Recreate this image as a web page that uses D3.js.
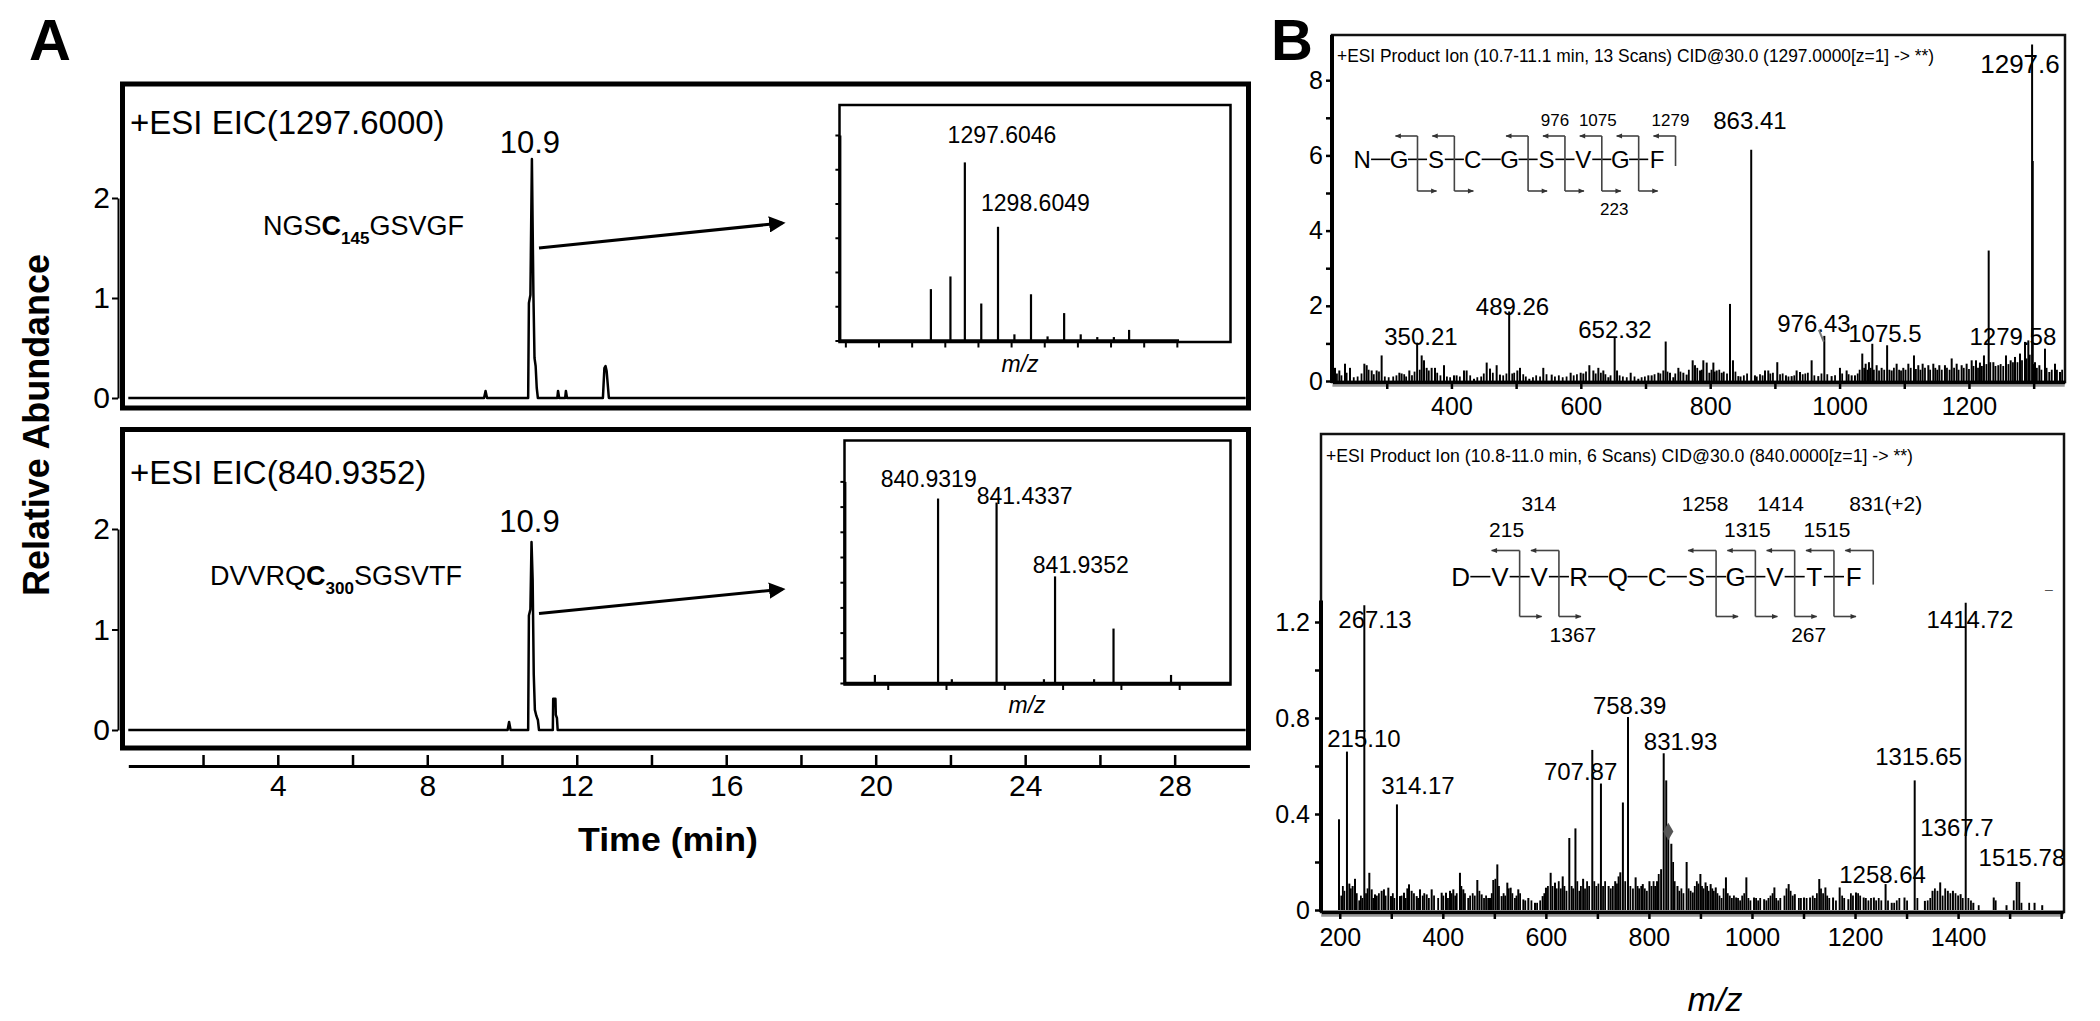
<!DOCTYPE html>
<html><head><meta charset="utf-8">
<script src="https://cdn.jsdelivr.net/npm/d3@7"></script>
<style>
html,body{margin:0;padding:0;background:#fff;}
svg{display:block;}
text{font-family:"Liberation Sans",Arial,Helvetica,sans-serif;}
</style></head><body>
<svg id="chart" width="2100" height="1021"></svg>
<script>
// ================= DATA =================
// Panel A – extracted ion chromatograms [time (min), relative abundance]
const eicTop = [[0,0],[9.52,0],[9.56,0.07],[9.6,0],[10.70,0],[10.72,0.95],[10.76,1.03],[10.80,2.39],[10.84,1.05],[10.87,0.4],[10.90,0.32],[10.93,0.1],[10.96,0],[11.48,0],[11.50,0.07],[11.53,0],[11.69,0],[11.71,0.07],[11.74,0],[12.70,0],[12.74,0.30],[12.77,0.32],[12.80,0.27],[12.86,0],[29.9,0]];
const eicBottom = [[0,0],[10.15,0],[10.19,0.08],[10.23,0],[10.70,0],[10.72,1.14],[10.76,1.2],[10.79,1.87],[10.82,1.5],[10.85,0.55],[10.88,0.2],[10.92,0.14],[10.96,0.1],[10.99,0],[11.36,0],[11.37,0.31],[11.43,0.31],[11.44,0.15],[11.47,0.12],[11.49,0],[29.9,0]];
const timeTicks = [2,4,6,8,10,12,14,16,18,20,22,24,26,28];
const timeTickLabels = [4,8,12,16,20,24,28];
const eicYTicks = [0,1,2];
const eicTitles = ["+ESI EIC(1297.6000)", "+ESI EIC(840.9352)"];
const eicPeakTimes = [10.80, 10.79];
const eicPeakLabels = ["10.9", "10.9"];

// Panel A insets – isotope patterns
const insetTopMz  = [1296.58,1297.17,1297.6046,1298.10,1298.6049,1299.10,1299.60,1300.10,1300.60,1301.10,1301.60,1302.10,1302.56];
const insetTopInt = [1.5,1.87,5.2,1.08,3.32,0.18,1.35,0.12,0.8,0.18,0.1,0.1,0.31];
const insetTopTicks = [1294,1295,1296,1297,1298,1299,1300,1301,1302,1303,1304];
const insetTopYTicks = [0,1,2,3,4,5,6];
const insetTopLabels = [["1297.6046",1298.725,5.78],["1298.6049",1299.733,3.77]];
const insetBotMz  = [840.39,840.9319,841.05,841.4337,841.84,841.9352,842.27,842.4367,842.93];
const insetBotInt = [0.32,7.32,0.15,7.16,0.15,4.23,0.15,2.16,0.32];
const insetBotTicks = [840.5,841.0,841.5,842.0,842.5,843.0];
const insetBotYTicks = [0,1,2,3,4,5,6,7,8];
const insetBotLabels = [["840.9319",840.852,7.77],["841.4337",841.675,7.1],["841.9352",842.156,4.37]];
const peptides = [
  {pre:"NGS", cys:"C", site:"145", post:"GSVGF"},
  {pre:"DVVRQ", cys:"C", site:"300", post:"SGSVTF"}
];

// Panel B – product ion spectra (m/z, relative intensity)
const msTopMz = [220,226.7,235.5,243.2,265.4,269,276.7,284.4,292.1,319.5,323,334.9,347,354,357.6,361.7,369.4,374.6,388.5,404,408,419.4,423.5,434.9,454.5,459.6,469.9,475,489.26,501.9,506,520.4,542,555,584.3,599.8,603.9,613.2,619.4,627.1,634.8,642.6,652.32,656,677.1,688.9,704.4,709.5,719.8,727.6,731.2,737.9,743,750.8,758.5,763.6,772.9,776.5,784.3,789.4,794.6,798.7,804.9,810,817.8,830.6,835.2,843.5,863.41,869.2,884.7,889.8,903.7,917.1,925.9,933.6,938.8,956.8,967.1,976.43,987.7,1000.6,1010.9,1018.7,1023.8,1035.1,1040.3,1045.4,1050.6,1057.3,1065,1073.5,1080.5,1088.2,1098.5,1106.3,1115,1121.7,1128.4,1137.2,1144.9,1154.2,1162.9,1173.3,1181,1188.7,1196.4,1204.2,1210.9,1217,1223.2,1230.5,1237.7,1245.4,1257.3,1264.5,1271.2,1278.9,1286.6,1291.8,1297.6,1298.6,1302.1,1308.8,1317.5,1324.2,1333,1340.7];
const msTopInt = [0.35,0.28,0.46,0.35,0.46,0.42,0.28,0.28,0.68,0.22,0.2,0.28,1.02,0.68,0.55,0.35,0.35,0.35,0.42,0.15,0.15,0.28,0.28,0.06,0.49,0.33,0.42,0.17,1.85,0.28,0.35,0.06,0.35,0.17,0.22,0.22,0.2,0.42,0.28,0.35,0.28,0.1,1.15,0.28,0.22,0.06,0.15,0.15,0.22,0.28,1.05,0.22,0.1,0.35,0.22,0.17,0.55,0.42,0.28,0.55,0.49,0.22,0.49,0.28,0.22,2.05,0.55,0.13,6.15,0.15,0.28,0.28,0.5,0.15,0.13,0.28,0.24,0.55,0.13,1.2,0.13,0.35,0.28,0.15,0.15,0.73,0.46,0.5,0.99,0.42,0.35,0.95,0.28,0.46,0.35,0.46,0.68,0.42,0.46,0.42,0.46,0.42,0.42,0.6,0.46,0.42,0.46,0.55,0.55,0.49,0.68,3.47,0.5,0.42,0.68,0.55,0.64,0.73,1.04,1.08,8.95,5.85,0.5,0.42,0.86,0.24,0.46,0.24];
// low-level background ions (top spectrum)
const msTopNoiseMz = [223,230,238,249,255,261,272,280,288,297,303,310,315,327,330,339,343,351,365,378,383,393,398,413,429,440,446,450,464,480,485,494,497,511,515,526,531,537,547,560,566,572,578,589,594,608,623,631,638,646,660,665,671,683,694,699,714,723,734,746,754,767,780,787,802,807,814,821,826,839,847,852,857,872,877,881,893,897,908,912,921,930,943,947,951,961,972,981,993,1004,1014,1028,1031,1038,1043,1048,1053,1061,1069,1077,1084,1092,1095,1102,1110,1118,1125,1132,1140,1148,1151,1158,1166,1170,1177,1184,1192,1200,1207,1214,1220,1227,1233,1241,1249,1253,1261,1268,1275,1282,1289,1294,1300,1305,1312,1320,1328,1336,1344];
const msTopNoiseInt = [0.2,0.15,0.22,0.1,0.12,0.2,0.3,0.18,0.25,0.12,0.1,0.12,0.15,0.18,0.12,0.15,0.25,0.3,0.28,0.22,0.15,0.12,0.1,0.12,0.15,0.1,0.12,0.2,0.22,0.15,0.2,0.2,0.22,0.18,0.12,0.1,0.15,0.12,0.18,0.12,0.15,0.1,0.12,0.15,0.18,0.25,0.2,0.22,0.18,0.15,0.15,0.12,0.1,0.12,0.1,0.12,0.18,0.2,0.25,0.2,0.25,0.3,0.35,0.3,0.3,0.25,0.3,0.25,0.2,0.25,0.12,0.15,0.2,0.12,0.18,0.15,0.2,0.22,0.18,0.2,0.12,0.15,0.18,0.2,0.22,0.15,0.2,0.18,0.15,0.2,0.18,0.2,0.3,0.35,0.3,0.35,0.3,0.28,0.3,0.3,0.35,0.3,0.28,0.3,0.35,0.32,0.3,0.35,0.3,0.35,0.3,0.3,0.35,0.3,0.35,0.3,0.35,0.32,0.4,0.35,0.4,0.45,0.5,0.4,0.45,0.4,0.45,0.5,0.5,0.55,0.6,0.7,0.45,0.35,0.3,0.35,0.3,0.3,0.3];
const msTopLabels = [["350.21",352.9,0.96],["489.26",494.4,1.76],["652.32",652.8,1.14],["863.41",861.5,6.7],["976.43",960.4,1.3],["1075.5",1070.1,1.04],["1279.58",1267.9,0.96],["1297.6",1278.9,8.19]];
const msTopLeader = [[968,1.36],[975.5,1.05]];
const msTopXTicks = [300,400,500,600,700,800,900,1000,1100,1200,1300];
const msTopXLabels = [400,600,800,1000,1200];
const msTopYTicks = [0,1,2,3,4,5,6,7,8];
const msTopYLabels = [0,2,4,6,8];
const msTopTitle = "+ESI Product Ion (10.7-11.1 min, 13 Scans) CID@30.0 (1297.0000[z=1] -> **)";

const msBotMz = [198.5,214,218.6,225,229.6,238,247.7,257.4,262,268.4,281.3,285.8,294.3,299.4,311,316.9,324.7,334.4,339.5,349.3,355.7,368.7,378.4,397.8,406.2,414,420.4,433.3,439.8,449.5,467,475.4,491.6,498,505.8,514.2,525.2,531.7,546.5,556.3,566,578.9,593.8,600.2,609.3,617.7,632.7,645.5,657.4,672.3,690.1,706.9,721.8,734.6,744.5,749.5,759.4,774.2,788.1,801,815.8,823.7,828.7,833.6,837.6,843.5,855.4,873.2,885.1,899.9,909.9,919.8,929.7,949.5,969.3,989.1,1004,1023.7,1043.5,1071.2,1083.1,1101,1112.8,1130.6,1142.5,1157.4,1170.2,1187.1,1201.9,1216.8,1236.6,1259.3,1271.2,1296,1315.8,1335.6,1350.4,1365.3,1380.1,1390,1404.9,1414.8,1429.6,1469.2,1494,1513.8,1518.7,1548.4,1563.3];
const msBotInt = [0.378,0.66,0.11,0.1,0.13,0.04,1.27,0.155,0.086,0.065,0.08,0.086,0.093,0.058,0.44,0.058,0.072,0.107,0.08,0.058,0.086,0.065,0.086,0.072,0.072,0.08,0.086,0.155,0.086,0.05,0.125,0.065,0.05,0.125,0.19,0.058,0.114,0.093,0.086,0.044,0.05,0.03,0.058,0.093,0.155,0.114,0.14,0.30,0.34,0.13,0.667,0.527,0.1,0.12,0.157,0.448,0.804,0.136,0.108,0.12,0.12,0.17,0.653,0.54,0.33,0.276,0.1,0.2,0.073,0.15,0.115,0.108,0.094,0.136,0.052,0.136,0.052,0.045,0.094,0.108,0.066,0.052,0.052,0.129,0.094,0.052,0.094,0.045,0.073,0.052,0.052,0.108,0.03,0.052,0.54,0.038,0.08,0.115,0.08,0.08,0.066,1.28,0.03,0.052,0.02,0.117,0.117,0.03,0.02];
// low-level background ions (bottom spectrum)
const msBotNoiseMz = [203,206,209,221.5,233,241,244,251,254,265,272,276,289,303,306,320,328,331,344,352,361,364,373,383,391,401,410,417,424,427,436,443,453,458,462,471,480,484,488,495,502,509,518,521,528,535,540,543,550,560,572,583,589,597,604,613,621,625,629,636,640,650,653,661,665,668,676,680,684,694,698,702,711,715,726,730,738,741,754,764,769,778,781,785,792,796,805,809,812,819,847,850,859,863,867,877,881,889,893,896,903,906,913,916,923,926,933,937,941,945,953,957,961,965,973,977,981,985,993,997,1008,1012,1016,1028,1032,1036,1040,1047,1051,1055,1063,1067,1075,1079,1091,1095,1106,1118,1122,1126,1134,1138,1146,1150,1163,1175,1179,1192,1196,1206,1210,1221,1226,1231,1241,1246,1251,1264,1276,1281,1286,1301,1321,1341,1346,1355,1360,1370,1375,1385,1395,1400,1409,1420,1425,1440,1473,1508,1523,1538];
const msBotNoiseInt = [0.06,0.1,0.08,0.09,0.07,0.06,0.05,0.07,0.09,0.05,0.06,0.07,0.06,0.07,0.05,0.06,0.05,0.09,0.07,0.05,0.06,0.07,0.05,0.06,0.05,0.06,0.05,0.07,0.06,0.07,0.1,0.07,0.06,0.07,0.06,0.08,0.05,0.06,0.05,0.07,0.13,0.1,0.07,0.06,0.09,0.07,0.05,0.06,0.07,0.04,0.04,0.03,0.04,0.07,0.1,0.1,0.09,0.12,0.09,0.1,0.08,0.1,0.09,0.12,0.08,0.1,0.09,0.12,0.1,0.12,0.1,0.11,0.1,0.12,0.09,0.1,0.11,0.14,0.12,0.1,0.09,0.1,0.09,0.1,0.09,0.08,0.1,0.12,0.1,0.15,0.2,0.12,0.08,0.09,0.07,0.09,0.08,0.1,0.12,0.11,0.1,0.09,0.1,0.08,0.09,0.08,0.07,0.06,0.05,0.09,0.07,0.06,0.05,0.06,0.05,0.04,0.06,0.07,0.05,0.04,0.05,0.04,0.05,0.04,0.05,0.06,0.07,0.05,0.04,0.05,0.06,0.09,0.08,0.06,0.05,0.05,0.05,0.06,0.05,0.07,0.09,0.07,0.06,0.05,0.04,0.06,0.05,0.07,0.06,0.07,0.06,0.05,0.04,0.05,0.04,0.05,0.04,0.04,0.03,0.04,0.05,0.04,0.05,0.04,0.05,0.09,0.08,0.06,0.09,0.07,0.07,0.06,0.05,0.05,0.04,0.02,0.04,0.04,0.03,0.03];
const msBotLabels = [["267.13",268.4,1.175],["215.10",247,0.68],["314.17",351.8,0.483],["707.87",667.4,0.54],["758.39",762.5,0.817],["831.93",861.4,0.667],["1315.65",1323.3,0.604],["1367.7",1397.8,0.308],["1515.78",1523.9,0.183],["1258.64",1253.5,0.1125],["1414.72",1423,1.175]];
const msBotPrecursor = [837.6, 0.327];
const msBotXTicks = [200,300,400,500,600,700,800,900,1000,1100,1200,1300,1400,1500,1600];
const msBotXLabels = [200,400,600,800,1000,1200,1400];
const msBotYTicks = [0,0.2,0.4,0.6,0.8,1.0,1.2];
const msBotYLabels = [0,0.4,0.8,1.2];
const msBotTitle = "+ESI Product Ion (10.8-11.0 min, 6 Scans) CID@30.0 (840.0000[z=1] -> **)";

// Fragmentation maps
const seqTop = ["N","G","S","C","G","S","V","G","F"];
const cleaveTop = [1,2,4,5,6,7];
const fragTopAbove = [[5,"976"],[6,"1075"],[8,"1279"]];
const fragTopBelow = [[6,"223"]];
const seqBot = ["D","V","V","R","Q","C","S","G","V","T","F"];
const cleaveBot = [1,2,6,7,8,9];
const fragBotAbove = [[1,"215"],[2,"314"],[6,"1258"],[7,"1315"],[8,"1414"],[9,"1515"],[10,"831(+2)"]];
const fragBotBelow = [[2,"1367"],[8,"267"]];

// ================= DRAWING =================
const svg = d3.select("#chart");
const FONT = '"Liberation Sans",Arial,Helvetica,sans-serif';
const defs = svg.append("defs");
defs.append("marker").attr("id","bigArrow").attr("viewBox","0 0 10 10").attr("refX",8).attr("refY",5)
  .attr("markerWidth",5.5).attr("markerHeight",5.5).attr("orient","auto")
  .append("path").attr("d","M0,0L10,5L0,10z").attr("fill","#000");
defs.append("marker").attr("id","smallArrow").attr("viewBox","0 0 10 10").attr("refX",9).attr("refY",5)
  .attr("markerWidth",7).attr("markerHeight",6).attr("markerUnits","userSpaceOnUse").attr("orient","auto")
  .append("path").attr("d","M0,1L10,5L0,9z").attr("fill","#333");

function txt(g, x, y, s, size, o = {}) {
  const t = g.append("text").attr("x", x).attr("y", y).attr("font-size", size)
    .attr("text-anchor", o.anchor || "start").attr("fill", o.fill || "#000").text(s);
  if (o.weight) t.attr("font-weight", o.weight);
  if (o.style) t.attr("font-style", o.style);
  if (o.len) t.attr("textLength", o.len).attr("lengthAdjust", "spacingAndGlyphs");
  return t;
}
function styleAxis(g, size) {
  g.attr("font-family", FONT).attr("font-size", size);
  g.selectAll("text").attr("fill", "#000");
  g.selectAll("line").attr("stroke", "#000");
  g.select(".domain").attr("stroke", "#000");
}
function sticks(g, x, y, mz, inten, sw) {
  g.append("g").selectAll("line").data(d3.zip(mz, inten)).join("line")
    .attr("x1", d => x(d[0])).attr("x2", d => x(d[0]))
    .attr("y1", y(0)).attr("y2", d => y(d[1]))
    .attr("stroke", "#000").attr("stroke-width", sw);
}

// ---------- Panel letters ----------
txt(svg, 29, 60, "A", 58, {weight: "bold"});
txt(svg, 1271, 60, "B", 58, {weight: "bold"});

// ---------- Panel A ----------
const xTime = d3.scaleLinear().domain([0, 30]).range([128.3, 1249.4]);
const yEic = [
  d3.scaleLinear().domain([0, 2]).range([398, 198]),
  d3.scaleLinear().domain([0, 2]).range([730, 529])
];
const frameA = [[122.5, 84, 1126, 324], [122.5, 429.5, 1126, 318.5]];
const titleY = [134, 484];
const eicData = [eicTop, eicBottom];
const pepY = [235, 585];
const pepX = [263, 210];
const arrowsA = [[[10.99, 1.5], [17.5, 1.75]], [[10.99, 1.16], [17.5, 1.4]]];

[0, 1].forEach(i => {
  const g = svg.append("g");
  const y = yEic[i];
  g.append("rect").attr("x", frameA[i][0]).attr("y", frameA[i][1]).attr("width", frameA[i][2]).attr("height", frameA[i][3])
    .attr("fill", "none").attr("stroke", "#000").attr("stroke-width", 5);
  const ax = g.append("g").attr("transform", "translate(118,0)")
    .call(d3.axisLeft(y).tickValues(eicYTicks).tickSize(6).tickSizeOuter(0).tickPadding(2).tickFormat(d3.format("d")));
  styleAxis(ax, 30);
  ax.select(".domain").attr("stroke-width", 2);
  ax.selectAll(".tick line").attr("stroke-width", 2);
  g.append("path").datum(eicData[i])
    .attr("d", d3.line().x(d => xTime(d[0])).y(d => y(d[1])))
    .attr("fill", "none").attr("stroke", "#000").attr("stroke-width", 2.5).attr("stroke-linejoin", "round");
  txt(g, 130, titleY[i], eicTitles[i], 33);
  txt(g, xTime(eicPeakTimes[i]) - 2, i === 0 ? 153 : 532, eicPeakLabels[i], 31, {anchor: "middle"});
  const p = peptides[i];
  const t = g.append("text").attr("x", pepX[i]).attr("y", pepY[i]).attr("font-size", 27).attr("fill", "#000");
  t.append("tspan").text(p.pre);
  t.append("tspan").attr("font-weight", "bold").text(p.cys);
  t.append("tspan").attr("font-weight", "bold").attr("font-size", 17).attr("dy", 9).text(p.site);
  t.append("tspan").attr("dy", -9).text(p.post);
  const a = arrowsA[i];
  g.append("line").attr("x1", xTime(a[0][0])).attr("y1", y(a[0][1])).attr("x2", xTime(a[1][0])).attr("y2", y(a[1][1]))
    .attr("stroke", "#000").attr("stroke-width", 3).attr("marker-end", "url(#bigArrow)");
});

// Time axis
const axT = svg.append("g").attr("transform", "translate(0,766)")
  .call(d3.axisBottom(xTime).tickValues(timeTicks).tickSizeInner(-11).tickSizeOuter(0).tickPadding(9)
    .tickFormat(d => timeTickLabels.includes(d) ? d : ""));
styleAxis(axT, 30);
axT.select(".domain").attr("stroke-width", 3);
axT.selectAll(".tick line").attr("stroke-width", 2.5);
txt(svg, 668, 851, "Time (min)", 34, {anchor: "middle", weight: "bold", len: 180});
svg.append("text").attr("transform", "translate(49,425) rotate(-90)").attr("text-anchor", "middle")
  .attr("font-size", 37).attr("font-weight", "bold").attr("textLength", 342).attr("lengthAdjust", "spacingAndGlyphs")
  .text("Relative Abundance");

// Insets
function inset(cfg) {
  const g = svg.append("g");
  g.append("rect").attr("x", cfg.frame[0]).attr("y", cfg.frame[1]).attr("width", cfg.frame[2]).attr("height", cfg.frame[3])
    .attr("fill", "#fff").attr("stroke", "#000").attr("stroke-width", 2.5);
  const ax = g.append("g").attr("transform", `translate(0,${cfg.y(0)})`)
    .call(d3.axisBottom(cfg.x).tickValues(cfg.ticks).tickSize(7).tickSizeOuter(0).tickFormat(""));
  styleAxis(ax, 10);
  ax.select(".domain").attr("stroke-width", 3.5);
  ax.selectAll(".tick line").attr("stroke-width", 2);
  const ay = g.append("g").attr("transform", `translate(${cfg.x.range()[0] + 1},0)`)
    .call(d3.axisLeft(cfg.y).tickValues(cfg.yTicks).tickSize(4).tickSizeOuter(0).tickFormat(""));
  styleAxis(ay, 10);
  ay.select(".domain").attr("stroke-width", 3);
  ay.selectAll(".tick line").attr("stroke-width", 2);
  sticks(g, cfg.x, cfg.y, cfg.mz, cfg.int, 2.2);
  cfg.labels.forEach(l => txt(g, cfg.x(l[1]), cfg.y(l[2]), l[0], 23, {anchor: "middle"}));
  txt(g, cfg.mzLabel[0], cfg.mzLabel[1], "m/z", 23, {anchor: "middle", style: "italic"});
}
inset({
  frame: [839.5, 105, 391, 237],
  x: d3.scaleLinear().domain([1293.79, 1304.05]).range([838.4, 1178.5]),
  y: d3.scaleLinear().domain([0, 6]).range([340.5, 135]),
  ticks: insetTopTicks, yTicks: insetTopYTicks, mz: insetTopMz, int: insetTopInt, labels: insetTopLabels,
  mzLabel: [1020, 372]
});
inset({
  frame: [844.5, 440.5, 386, 244],
  x: d3.scaleLinear().domain([840.12, 843.44]).range([843.4, 1230.5]),
  y: d3.scaleLinear().domain([0, 8]).range([683, 481.4]),
  ticks: insetBotTicks, yTicks: insetBotYTicks, mz: insetBotMz, int: insetBotInt, labels: insetBotLabels,
  mzLabel: [1027, 713]
});

// ---------- Panel B ----------
function msPanel(cfg) {
  const g = svg.append("g");
  const {x, y} = cfg;
  g.append("rect").attr("x", cfg.frame[0]).attr("y", cfg.frame[1]).attr("width", cfg.frame[2]).attr("height", cfg.frame[3])
    .attr("fill", "none").attr("stroke", "#111").attr("stroke-width", 2.5);
  txt(g, cfg.frame[0] + 5, cfg.titleY, cfg.title, 18, {len: cfg.titleLen});
  sticks(g, x, y, cfg.noiseMz, cfg.noiseInt, 1.8);
  sticks(g, x, y, cfg.mz, cfg.int, 2);
  g.append("line").attr("x1", x.range()[0]).attr("x2", x.range()[1]).attr("y1", cfg.axisY + 3.5).attr("y2", cfg.axisY + 3.5)
    .attr("stroke", "#999").attr("stroke-width", 2.5);
  const ax = g.append("g").attr("transform", `translate(0,${cfg.axisY})`)
    .call(d3.axisBottom(x).tickValues(cfg.xTicks).tickSize(7).tickSizeOuter(0).tickPadding(cfg.xPad)
      .tickFormat(d => cfg.xLabels.includes(d) ? d : ""));
  styleAxis(ax, 25);
  ax.select(".domain").attr("stroke-width", 3.5);
  ax.selectAll(".tick line").attr("stroke-width", 2.5);
  const ay = g.append("g").attr("transform", `translate(${cfg.yAxisX},0)`)
    .call(d3.axisLeft(y).tickValues(cfg.yTicks).tickSize(6).tickSizeOuter(0).tickPadding(cfg.yPad)
      .tickFormat(d => cfg.yLabels.some(v => Math.abs(v - d) < 1e-9) ? cfg.yFmt(d) : ""));
  styleAxis(ay, 25);
  ay.select(".domain").remove();
  ay.selectAll(".tick line").attr("stroke-width", 2.5);
  g.append("line").attr("x1", cfg.yAxisX).attr("x2", cfg.yAxisX).attr("y1", y(0) + 2).attr("y2", y(cfg.yAxisTop))
    .attr("stroke", "#000").attr("stroke-width", 4);
  cfg.labels.forEach(l => txt(g, x(l[1]), y(l[2]), l[0], l[0] === "1297.6" ? 26 : 24, {anchor: "middle"}));
  return g;
}
const xMsTop = d3.scaleLinear().domain([216, 1348]).range([1332.4, 2064.7]);
const yMsTop = d3.scaleLinear().domain([0, 8]).range([381, 80.2]);
const gTop = msPanel({
  x: xMsTop, y: yMsTop, frame: [1332, 35, 733, 347], title: msTopTitle, titleY: 62, titleLen: 597,
  mz: msTopMz, int: msTopInt, noiseMz: msTopNoiseMz, noiseInt: msTopNoiseInt,
  axisY: 382, xTicks: msTopXTicks, xLabels: msTopXLabels, xPad: 8,
  yAxisX: 1332, yTicks: msTopYTicks, yLabels: msTopYLabels, yPad: 3, yFmt: d3.format("d"), yAxisTop: 9.2,
  labels: msTopLabels
});
gTop.append("line").attr("x1", xMsTop(msTopLeader[0][0])).attr("y1", yMsTop(msTopLeader[0][1]))
  .attr("x2", xMsTop(msTopLeader[1][0])).attr("y2", yMsTop(msTopLeader[1][1])).attr("stroke", "#777").attr("stroke-width", 2);

const xMsBot = d3.scaleLinear().domain([164, 1604]).range([1321.2, 2063.2]);
const yMsBot = d3.scaleLinear().domain([0, 1.2]).range([910, 622]);
const gBot = msPanel({
  x: xMsBot, y: yMsBot, frame: [1321, 434, 743, 478], title: msBotTitle, titleY: 462, titleLen: 587,
  mz: msBotMz, int: msBotInt, noiseMz: msBotNoiseMz, noiseInt: msBotNoiseInt,
  axisY: 912, xTicks: msBotXTicks, xLabels: msBotXLabels, xPad: 9,
  yAxisX: 1321, yTicks: msBotYTicks, yLabels: msBotYLabels, yPad: 5, yFmt: d => d === 0 ? "0" : d3.format(".1f")(d), yAxisTop: 1.29,
  labels: msBotLabels
});
gBot.append("path").attr("transform", `translate(${xMsBot(msBotPrecursor[0])},${yMsBot(msBotPrecursor[1])})`)
  .attr("d", d3.symbol(d3.symbolDiamond, 90)()).attr("fill", "#555");
txt(gBot, 2049, 594, "–", 14, {anchor: "middle", fill: "#555"});
txt(svg, 1715, 1011, "m/z", 34, {anchor: "middle", style: "italic"});

// Fragmentation maps
function fragMap(cfg) {
  const g = svg.append("g");
  const xs = d3.scalePoint().domain(d3.range(cfg.seq.length)).range(cfg.range);
  const step = xs.step();
  g.selectAll("text.aa").data(cfg.seq).join("text").attr("class", "aa")
    .attr("x", (d, i) => xs(i)).attr("y", cfg.baseY).attr("text-anchor", "middle")
    .attr("font-size", cfg.fs).attr("fill", "#000").text(d => d);
  const dashY = cfg.baseY - cfg.fs * 0.36;
  g.selectAll("line.dash").data(d3.range(cfg.seq.length - 1)).join("line")
    .attr("x1", i => xs(i) + cfg.fs * 0.37).attr("x2", i => xs(i + 1) - cfg.fs * 0.37)
    .attr("y1", dashY).attr("y2", dashY).attr("stroke", "#000").attr("stroke-width", 1.6);
  const mx = i => xs(i) + step / 2;
  const all = cfg.cleave.concat([cfg.seq.length - 1]);
  all.forEach(i => {
    const term = i === cfg.seq.length - 1;
    g.append("line").attr("x1", mx(i)).attr("x2", mx(i)).attr("y1", cfg.topY).attr("y2", term ? cfg.termY : cfg.botY)
      .attr("stroke", "#444").attr("stroke-width", 1.6);
    g.append("line").attr("x1", mx(i)).attr("x2", mx(i) - cfg.lenTop).attr("y1", cfg.topY).attr("y2", cfg.topY)
      .attr("stroke", "#444").attr("stroke-width", 1.6).attr("marker-end", "url(#smallArrow)");
    if (!term) g.append("line").attr("x1", mx(i)).attr("x2", mx(i) + cfg.lenBot).attr("y1", cfg.botY).attr("y2", cfg.botY)
      .attr("stroke", "#444").attr("stroke-width", 1.6).attr("marker-end", "url(#smallArrow)");
  });
  cfg.above.forEach((l, k) => {
    const long = l[1].length > 4;
    txt(g, long ? mx(l[0]) - cfg.lenTop + 4 : mx(l[0]) + cfg.aboveDx[k], cfg.aboveY[cfg.rows[k]], l[1], cfg.nfs,
      {anchor: long ? "start" : "middle"});
  });
  cfg.below.forEach(l => txt(g, mx(l[0]) + cfg.lenBot / 2 + 3, cfg.belowY, l[1], cfg.nfs, {anchor: "middle"}));
}
fragMap({seq: seqTop, cleave: cleaveTop, above: fragTopAbove, below: fragTopBelow, range: [1362.2, 1657.1],
  baseY: 168, fs: 24, nfs: 17, topY: 136, botY: 191, termY: 166, lenTop: 22, lenBot: 19,
  aboveY: [126], rows: [0, 0, 0], aboveDx: [-10, -4, -5], belowY: 215});
fragMap({seq: seqBot, cleave: cleaveBot, above: fragBotAbove, below: fragBotBelow, range: [1460.7, 1853.6],
  baseY: 586, fs: 26, nfs: 21, topY: 550.5, botY: 616.5, termY: 584.6, lenTop: 28, lenBot: 22,
  aboveY: [537, 511], rows: [0, 1, 1, 0, 1, 0, 1], aboveDx: [-13, -20, -11, -8, -14, -7, 0], belowY: 642});
</script>
</body></html>
